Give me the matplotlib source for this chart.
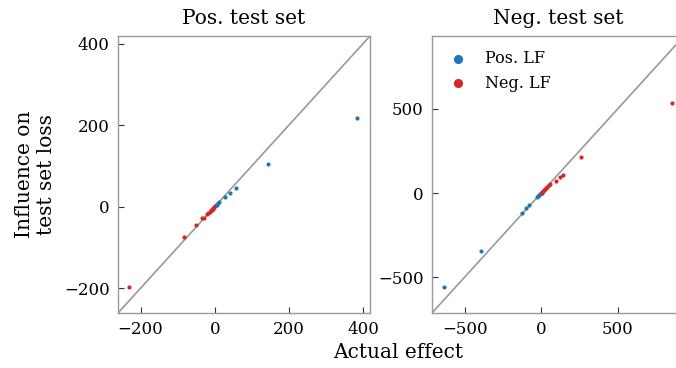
import matplotlib as mpl
mpl.use('Agg')
import matplotlib.pyplot as plt

#
#--- data: (actual effect, influence) per panel / group
#
pos_set_pos_lf_x = [385, 145, 58, 41, 28, 12, 8, 5, 3, 1]
pos_set_pos_lf_y = [217, 105, 46, 34, 24, 11, 8, 5, 3, 1]
pos_set_neg_lf_x = [-230, -82, -51, -33, -30, -21, -17, -13, -10, -8, -6, -4, -2]
pos_set_neg_lf_y = [-197, -74, -46, -28, -27, -18, -15, -12, -9, -7, -5, -3, -2]

neg_set_pos_lf_x = [-636, -390, -126, -96, -78, -24, -18, -12, -8, -4]
neg_set_pos_lf_y = [-558, -345, -117, -91, -73, -24, -18, -12, -8, -4]
neg_set_neg_lf_x = [856, 261, 146, 124, 100, 61, 50, 40, 32, 25, 18, 12, 6, 3]
neg_set_neg_lf_y = [536, 214, 109, 95, 71, 55, 46, 37, 30, 23, 17, 11, 6, 3]

titles  = ['Pos. test set', 'Neg. test set']
limits  = [(-261, 419), (-713, 934)]
xticks  = [[-200, 0, 200, 400], [-500, 0, 500]]
yticks  = [[-200, 0, 200, 400], [-500, 0, 500]]

blue = '#1f77b4'
red  = '#d62728'
gray = '#999999'

mpl.rcParams['font.family'] = 'DejaVu Serif'
mpl.rcParams['font.size'] = 12

fig = plt.figure(figsize=(6.76, 3.68), dpi=100)
W, H = 676.0, 368.0
ax1 = fig.add_axes([118 / W, 55 / H, 252 / W, 277 / H])
ax2 = fig.add_axes([432 / W, 55 / H, 252 / W, 277 / H])

panels = [
    (ax1, pos_set_pos_lf_x, pos_set_pos_lf_y, pos_set_neg_lf_x, pos_set_neg_lf_y),
    (ax2, neg_set_pos_lf_x, neg_set_pos_lf_y, neg_set_neg_lf_x, neg_set_neg_lf_y),
]

for i, (ax, px, py, nx, ny) in enumerate(panels):
    lo, hi = limits[i]
#
#--- diagonal y = x
#
    ax.plot([lo, hi], [lo, hi], color=gray, lw=1.2, zorder=1)
    ax.scatter(px, py, s=9, color=blue, lw=0, label='Pos. LF', zorder=3)
    ax.scatter(nx, ny, s=9, color=red, lw=0, label='Neg. LF', zorder=3)

    ax.set_xlim(lo, hi)
    ax.set_ylim(lo, hi)
    ax.set_xticks(xticks[i])
    ax.set_yticks(yticks[i])
    ax.tick_params(direction='in', length=4, width=0.8, color='#333333',
                   labelsize=12, pad=6)
    for sp in ax.spines.values():
        sp.set_color(gray)
        sp.set_linewidth(1.0)
    ax.set_title(titles[i], fontsize=14.5, pad=9)

ax1.set_ylabel('Influence on\ntest set loss', fontsize=14.5, labelpad=6)

leg = ax2.legend(loc='upper left', frameon=False, markerscale=2.2,
                 fontsize=11.5, handletextpad=1.0, handlelength=1.4,
                 borderaxespad=0.5, labelspacing=0.45)

fig.text(398 / W, 1 - 352 / H, 'Actual effect', ha='center', va='center',
         fontsize=14.5)

plt.savefig('out.png', dpi=100)
plt.close('all')
